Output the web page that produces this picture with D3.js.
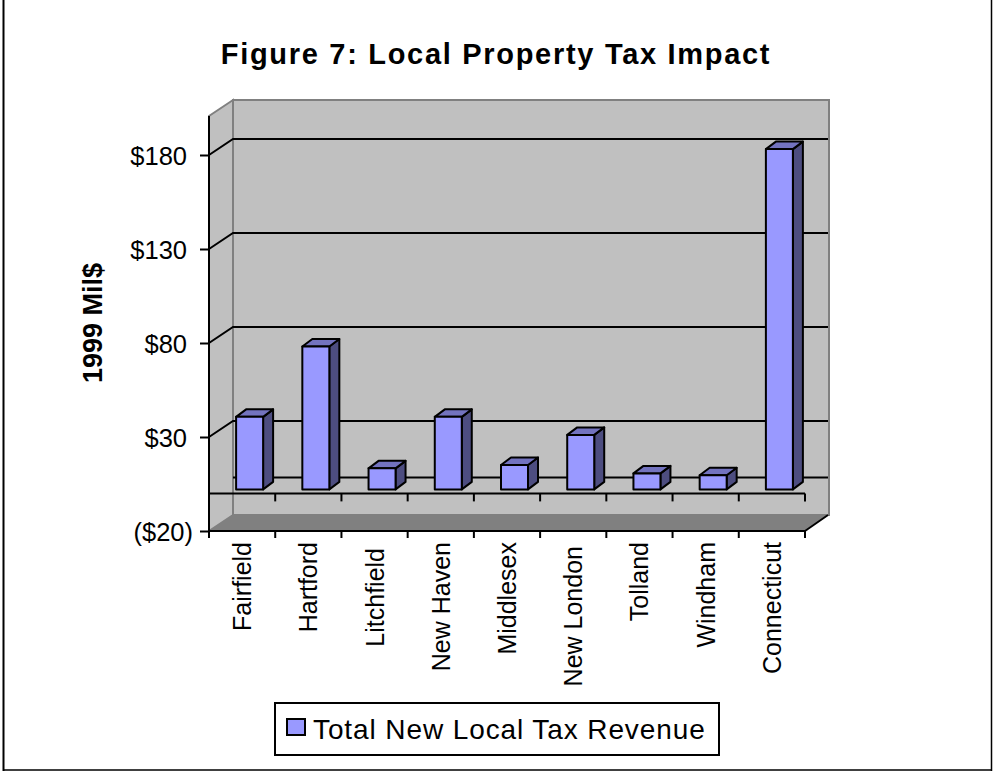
<!DOCTYPE html>
<html><head><meta charset="utf-8">
<script src="https://cdn.jsdelivr.net/npm/d3@7"></script>
<style>html,body{margin:0;padding:0;background:#fff}svg{display:block}text{font-family:"Liberation Sans",Arial,sans-serif;fill:#000}</style>
</head><body><svg id="c" width="993" height="771"></svg>
<script>
const categories=["Fairfield","Hartford","Litchfield","New Haven","Middlesex","New London","Tolland","Windham","Connecticut"];
const revenue=[38.6,76,11.2,38.6,13,29,8.5,7.5,181];
const tickValues=[-20,30,80,130,180];
const tickLabels=["($20)","$30","$80","$130","$180"];
const seriesName="Total New Local Tax Revenue";
const titleText="Figure 7: Local Property Tax Impact";
const axisTitle="1999 Mil$";

const svg=d3.select("#c");
const y=d3.scaleLinear().domain([-20,180]).range([531,155]);
const x=d3.scaleBand().domain(categories).range([209,805]);
const wallDx=24,wallDy=-16,barOffset=-6,barDy=-4,sideDx=10,sideDy=-7.5,barW=27;
const topY=116, right=805, lw=2;
const labelNudge={"Litchfield":6,"New London":4};

// outer frame
const frame=(a,b,c,d,w)=>svg.append("line").attr("x1",a).attr("y1",b).attr("x2",c).attr("y2",d).attr("stroke","#000").attr("stroke-width",w);
frame(3.5,0,3.5,771,2);frame(991.5,0,991.5,771,1.5);frame(3,770,992,770,1.5);

// walls
const poly=(pts,fill,stroke,sw)=>svg.append("polygon").attr("points",pts.map(p=>p.join(",")).join(" ")).attr("fill",fill).attr("stroke",stroke||"none").attr("stroke-width",sw||0);
const L=x.range()[0],B=y(-20);
poly([[L+wallDx,topY+wallDy],[right+wallDx,topY+wallDy],[right+wallDx,B+wallDy],[L+wallDx,B+wallDy]],"#c0c0c0","#808080",2);
poly([[L,topY],[L+wallDx,topY+wallDy],[L+wallDx,B+wallDy],[L,B]],"#c0c0c0","#808080",2);
poly([[L,B],[L+wallDx,B+wallDy],[right+wallDx,B+wallDy],[right,B]],"#808080");

// gridlines
tickValues.filter(v=>v>-20).forEach(v=>{
  svg.append("path").attr("d",`M${L},${y(v)}L${L+wallDx},${y(v)+wallDy}L${right+wallDx-1},${y(v)+wallDy}`).attr("fill","none").attr("stroke","#000").attr("stroke-width",lw);
});
// zero plane
svg.append("line").attr("x1",L+wallDx).attr("x2",right+wallDx-1).attr("y1",y(0)+wallDy).attr("y2",y(0)+wallDy).attr("stroke","#000").attr("stroke-width",lw);
svg.append("line").attr("x1",right).attr("x2",right+wallDx-1).attr("y1",B).attr("y2",B+wallDy).attr("stroke","#000").attr("stroke-width",lw);

// bars
const g=svg.append("g").attr("stroke","#000").attr("stroke-width",lw).attr("stroke-linejoin","round");
categories.forEach((c,i)=>{
  const x0=x(c)+x.bandwidth()/2+barOffset,x1=x0+barW;
  const yb=y(0)+barDy,yt=y(revenue[i])+barDy;
  g.append("polygon").attr("points",[[x1,yt],[x1+sideDx,yt+sideDy],[x1+sideDx,yb+sideDy],[x1,yb]].join(" ")).attr("fill","#4d4d80");
  g.append("polygon").attr("points",[[x0,yt],[x0+sideDx,yt+sideDy],[x1+sideDx,yt+sideDy],[x1,yt]].join(" ")).attr("fill","#7373bf");
  g.append("rect").attr("x",x0).attr("y",yt).attr("width",barW).attr("height",yb-yt).attr("fill","#9999ff");
});

// axes
const axisStyle=s=>s.attr("stroke","#000").attr("stroke-width",lw);
svg.append("line").attr("x1",L).attr("x2",L).attr("y1",topY).attr("y2",B).call(axisStyle);
const ya=svg.append("g").attr("transform",`translate(${L},0)`).call(d3.axisLeft(y).tickValues(tickValues).tickSize(9).tickPadding(13).tickFormat((d,i)=>tickLabels[i]));
ya.select(".domain").remove();
ya.selectAll("line").call(axisStyle);
ya.selectAll("text").attr("font-size",25.5).attr("dy","0.38em").attr("dx",d=>d<0?6:0).style("font-family",'"Liberation Sans"').attr("fill","#000");
[y(0),B].forEach((yy,k)=>{
  const edges=d3.range(categories.length+1).map(i=>L+i*x.step());
  svg.append("line").attr("x1",L).attr("x2",right).attr("y1",yy).attr("y2",yy).call(axisStyle);
  edges.forEach((e,i)=>{ if(k==0&&i==0)return; svg.append("line").attr("x1",e).attr("x2",e).attr("y1",yy).attr("y2",yy+(k?7:8)).call(axisStyle);});
});
categories.forEach(c=>{
  const cx=x(c)+x.bandwidth()/2;
  svg.append("text").attr("transform",`translate(${cx+9},${542+(labelNudge[c]||0)}) rotate(-90)`).attr("text-anchor","end").attr("font-size",25).text(c);
});

// titles
svg.append("text").attr("x",496).attr("y",64).attr("text-anchor","middle").attr("font-size",29).attr("font-weight","bold").attr("letter-spacing",1.7).text(titleText);
svg.append("text").attr("transform","translate(102,323) rotate(-90)").attr("text-anchor","middle").attr("font-size",27).attr("font-weight","bold").text(axisTitle);

// legend
svg.append("rect").attr("x",275).attr("y",703).attr("width",444).attr("height",52).attr("fill","#fff").attr("stroke","#000").attr("stroke-width",2);
svg.append("rect").attr("x",287).attr("y",719).attr("width",18).attr("height",16).attr("fill","#9999ff").attr("stroke","#000").attr("stroke-width",2);
svg.append("text").attr("x",313).attr("y",739).attr("font-size",28).attr("letter-spacing",0.9).text(seriesName);
</script></body></html>
